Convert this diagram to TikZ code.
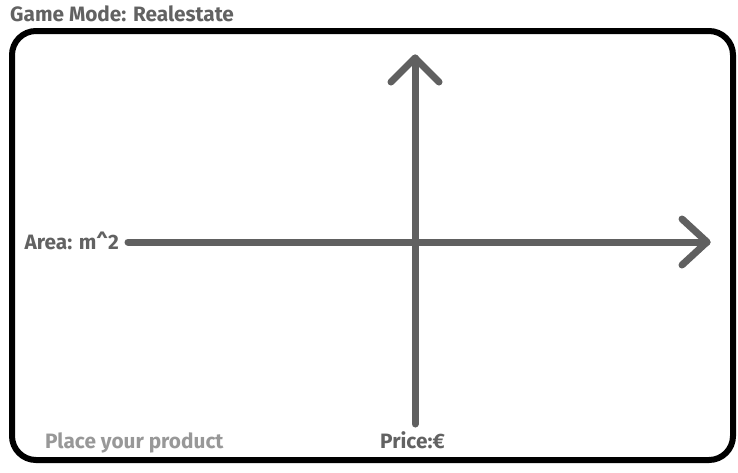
\documentclass[tikz,border=0pt]{standalone}
\usepackage{fontspec}
\setmainfont{Fira Sans}
\begin{document}
\begin{tikzpicture}[x=1pt,y=-1pt,
  frame/.style={line width=6pt,draw=black,rounded corners=24pt},
  axis/.style={line width=7pt,draw=axisgray,line cap=round,line join=round},
  lbl/.style={inner sep=0pt,font=\bfseries\fontsize{20.8}{22}\selectfont},
]
\definecolor{axisgray}{HTML}{606060}
\definecolor{txtgray}{HTML}{626262}
\definecolor{lightgray2}{HTML}{989898}
\useasboundingbox (0,0) rectangle (738,472);
\fill[white] (0,0) rectangle (738,472);
\draw[frame] (12,31) rectangle (733,460);
\coordinate (hstart) at (128,242);
\coordinate (htip) at (707,242);
\coordinate (vbot) at (415,424);
\coordinate (vtip) at (415,58);
\draw[axis] (hstart) -- (htip);
\draw[axis] ([shift={(-25,-23)}]htip) -- (htip) -- ([shift={(-25,23)}]htip);
\draw[axis] (vbot) -- (vtip);
\draw[axis] ([shift={(-24,24)}]vtip) -- (vtip) -- ([shift={(24,24)}]vtip);
\node[lbl,text=txtgray,anchor=base west] (title) at (10,21.5) {Game Mode: Realestate};
\node[lbl,text=txtgray,anchor=base east] (area) at (119,249) {Area: m\^{}2};
\node[lbl,text=lightgray2,anchor=base west] (place) at (45,448) {Place your product};
\node[lbl,text=txtgray,anchor=base west] (price) at (380,448) {Price:€};
\end{tikzpicture}
\end{document}
